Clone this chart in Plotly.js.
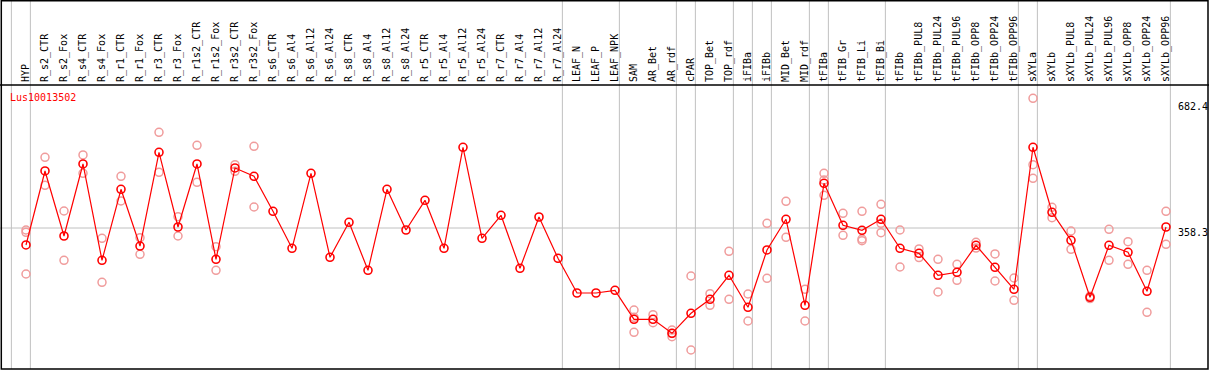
<!DOCTYPE html>
<html>
<head>
<meta charset="utf-8">
<script src="https://cdn.plot.ly/plotly-3.0.1.min.js"></script>
<style>html,body{margin:0;padding:0;background:#fff;}#chart{width:1209px;height:370px;}</style>
</head>
<body>
<div id="chart"></div>
<script>
const categories = ["HYP","R_s2_CTR","R_s2_Fox","R_s4_CTR","R_s4_Fox","R_r1_CTR","R_r1_Fox","R_r3_CTR","R_r3_Fox","R_r1s2_CTR","R_r1s2_Fox","R_r3s2_CTR","R_r3s2_Fox","R_s6_CTR","R_s6_Al4","R_s6_Al12","R_s6_Al24","R_s8_CTR","R_s8_Al4","R_s8_Al12","R_s8_Al24","R_r5_CTR","R_r5_Al4","R_r5_Al12","R_r5_Al24","R_r7_CTR","R_r7_Al4","R_r7_Al12","R_r7_Al24","LEAF_N","LEAF_P","LEAF_NPK","SAM","AR_Bet","AR_rdf","cPAR","TOP_Bet","TOP_rdf","iFIBa","iFIBb","MID_Bet","MID_rdf","tFIBa","tFIB_Gr","tFIB_Li","tFIB_Bi","tFIBb","tFIBb_PUL8","tFIBb_PUL24","tFIBb_PUL96","tFIBb_OPP8","tFIBb_OPP24","tFIBb_OPP96","sXYLa","sXYLb","sXYLb_PUL8","sXYLb_PUL24","sXYLb_PUL96","sXYLb_OPP8","sXYLb_OPP24","sXYLb_OPP96"];

const meanValues = [315.9,500.8,338.3,518.3,277.6,455,313.3,547.5,360.8,518.3,280.1,508.3,487.5,400,307.6,495,285.1,372.6,252.6,455,353.3,427.5,307.6,560,332.6,390.1,257.6,385.8,282.6,195.9,195.9,202.6,130.2,130.2,95.2,145.2,180.2,240.1,160.2,303.4,380.1,165.2,470,365.1,352.6,380.1,307.6,295.1,240.1,247.6,315.1,260.1,205.2,560,397.6,327.6,185.2,315.1,297.6,200.2,360.8];

const rep1 = [353.3,535,400.8,540.8,332.6,487.5,334.1,597.5,386.6,565,311.6,516.6,562.5,null,null,null,null,null,null,null,null,null,null,null,null,null,null,null,null,null,null,null,153.4,141.7,103.4,238.4,194.2,300.1,193.4,370.1,425,205.2,495,395,400,417.5,353.3,305.9,280.1,267.6,322.6,293.4,233.4,682.4,410,350.8,188,355.1,324.1,252.6,400];
const rep2 = [347.6,465,277.6,495,222.6,425.8,292.6,497.5,338.3,472.5,252.6,500,410.8,null,null,null,null,null,null,null,null,null,null,null,null,null,null,null,null,null,null,null,135,121.7,95,53.5,165.2,180.2,125.9,232.6,335,125.9,478,340,330.8,370.1,260.9,284.3,198.4,227.6,308.3,225.9,177.7,516.6,384.1,305.1,182,277.6,267.6,147.7,317.6];
const rep3 = [243.4,null,null,null,null,null,null,null,null,null,null,null,null,null,null,null,null,null,null,null,null,null,null,null,null,null,null,null,null,null,null,null,97.7,null,86.8,null,null,null,null,null,null,null,440,null,326.6,346.6,null,null,null,null,null,null,null,482.5,null,null,null,null,null,null,null];

const groupEnds = ["HYP","R_r7_Al24","LEAF_NPK","AR_rdf","cPAR","TOP_rdf","iFIBa","iFIBb","MID_rdf","tFIBa","tFIB_Bi","tFIBb_OPP96","sXYLa","sXYLb_OPP96"];
const geneName = "Lus10013502";
const scaleLabels = [682.4, 358.3, 0];
const refLevel = 358.3;

const W = 1209, H = 370, TOP = 85;
const pxPerCat = 19, firstPx = 26;
const xr0 = -firstPx / pxPerCat;
const xr1 = xr0 + W / pxPerCat;
const pxPerUnit = 0.4002, zeroPx = 371.4;
const yr0 = (zeroPx - H) / pxPerUnit;
const yr1 = (zeroPx - TOP) / pxPerUnit;
const plotH = H - TOP;
const pyToPaper = py => (H - py) / plotH;
const sepOff = 0.23;

const repColor = '#f09c9c';
const repMarker = {symbol: 'circle-open', size: 8, color: repColor, line: {color: repColor, width: 1.5}};
const traces = [rep1, rep2, rep3].map(r => ({
  x: categories, y: r, type: 'scatter', mode: 'markers', marker: repMarker,
  hoverinfo: 'skip', showlegend: false, cliponaxis: false
}));
traces.push({
  x: categories, y: meanValues, type: 'scatter', mode: 'lines+markers',
  line: {color: '#ff0000', width: 1.2},
  marker: {symbol: 'circle-open', size: 8, color: '#ff0000', line: {color: '#ff0000', width: 1.6}},
  showlegend: false, cliponaxis: false
});

const shapes = [];
const sepPositions = [-1 + sepOff].concat(groupEnds.map(g => categories.indexOf(g) + sepOff));
sepPositions.forEach(p => shapes.push({
  type: 'line', xref: 'x', yref: 'paper', x0: p, x1: p, y0: pyToPaper(369), y1: pyToPaper(0),
  line: {color: '#c0c0c0', width: 1}, layer: 'below'
}));
shapes.push({
  type: 'line', xref: 'x', yref: 'y', x0: xr0, x1: sepPositions[sepPositions.length - 1], y0: refLevel, y1: refLevel,
  line: {color: '#c0c0c0', width: 1}, layer: 'below'
});
shapes.push({
  type: 'line', xref: 'paper', yref: 'paper', x0: 0, x1: 1, y0: 1, y1: 1,
  line: {color: '#000', width: 1.5}
});
shapes.push({
  type: 'rect', xref: 'paper', yref: 'paper', x0: 1.3 / W, x1: 1208 / W, y0: pyToPaper(369), y1: pyToPaper(0.7),
  line: {color: '#000', width: 1.5}
});

const mono = 'DejaVu Sans Mono, monospace';
const annotations = [{
  text: geneName, xref: 'paper', yref: 'paper', x: 9 / W, y: pyToPaper(97.5),
  xanchor: 'left', yanchor: 'middle', showarrow: false, borderpad: 0,
  font: {family: mono, size: 10, color: '#ff0000'}
}];
const labelShift = [-8.5, -4.3, 9.1];
scaleLabels.forEach((v, k) => annotations.push({
  text: String(v), xref: 'paper', yref: 'y', x: 1176.5 / W, y: v, yshift: labelShift[k],
  xanchor: 'left', yanchor: 'middle', showarrow: false, borderpad: 0,
  font: {family: mono, size: 10, color: '#000'}
}));

const layout = {
  width: W, height: H,
  margin: {l: 0, r: 0, t: TOP, b: 0, pad: 0},
  paper_bgcolor: '#fff', plot_bgcolor: '#fff',
  showlegend: false,
  xaxis: {
    type: 'category', range: [xr0, xr1], side: 'top', tickangle: -90,
    showgrid: false, zeroline: false, showline: false, ticks: '',
    tickfont: {family: mono, size: 10, color: '#000'},
    ticklabelstandoff: 2, fixedrange: true
  },
  yaxis: {
    range: [yr0, yr1], showgrid: false, zeroline: false, showline: false,
    showticklabels: false, ticks: '', fixedrange: true
  },
  shapes: shapes,
  annotations: annotations
};

Plotly.newPlot('chart', traces, layout, {displayModeBar: false, staticPlot: true});
</script>
</body>
</html>
